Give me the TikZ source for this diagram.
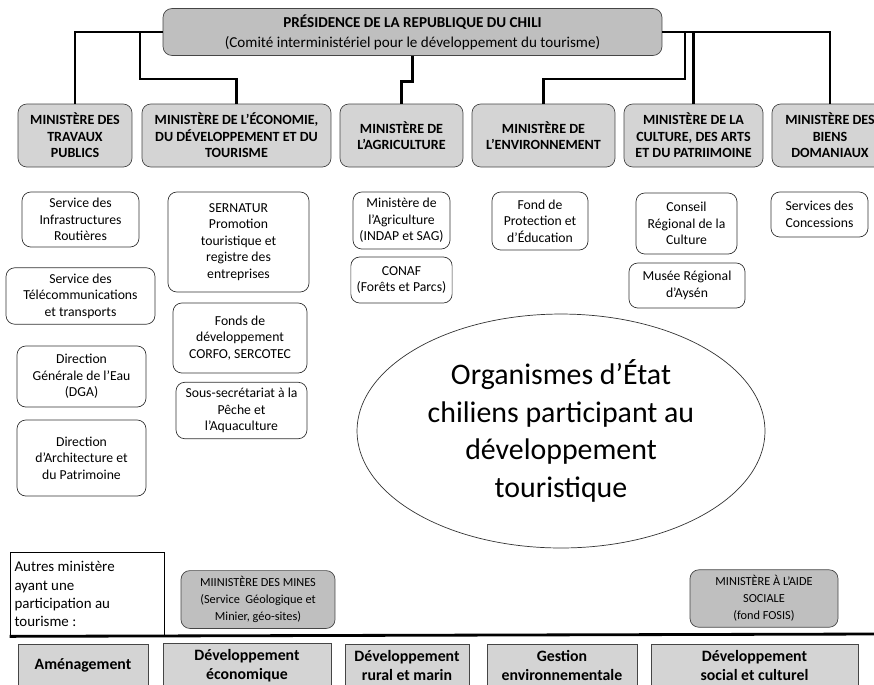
\documentclass[tikz,border=0pt]{standalone}
\usepackage{fontspec}
\setmainfont{Carlito}
\usepackage{tikz}
\usetikzlibrary{positioning,shapes.geometric}
\definecolor{boxgray}{HTML}{D4D4D4}
\definecolor{headgray}{HTML}{BFBFBF}
\definecolor{edgegray}{HTML}{454545}
\tikzset{%
	head/.style     = {draw=edgegray, fill=headgray, rounded corners=5pt, align=center, font=\fontsize{8.6}{11.4}\selectfont}, % Presidence
	ministry/.style = {draw=edgegray, fill=boxgray, rounded corners=5pt, align=center, minimum height=1.26cm, font=\bfseries\fontsize{8}{9.4}\selectfont},
	service/.style  = {draw=black!80, fill=white, rounded corners=5pt, align=center, font=\fontsize{7.8}{9.4}\selectfont},
	other/.style    = {draw=edgegray, fill=headgray, rounded corners=5pt, align=center, font=\fontsize{7}{9.6}\selectfont},
	field/.style    = {draw=edgegray, fill=boxgray, align=center, minimum height=0.86cm, font=\bfseries\fontsize{9}{10.8}\selectfont},
	link/.style     = {line width=1.6pt},
	waypoint/.style = {coordinate},
}
\begin{document}
\begin{tikzpicture}[x=0.02cm, y=-0.02cm]
		\useasboundingbox (0,0) rectangle (874,684);
		\clip (0,0) rectangle (874,684);
		% presidence
		\node[head, minimum width=9.98cm, minimum height=0.88cm] (pres) at (412.5,32) {{\bfseries PRÉSIDENCE DE LA REPUBLIQUE DU CHILI}\\(Comité interministériel pour le développement du tourisme)};
		% ministeres
		\node[ministry, minimum width=2.28cm] (trav) at (75,135.5) {MINISTÈRE DES\\TRAVAUX\\PUBLICS};
		\node[ministry, minimum width=3.78cm] (eco) at (236.5,135.5) {MINISTÈRE DE L’ÉCONOMIE,\\DU DÉVELOPPEMENT ET DU\\TOURISME};
		\node[ministry, minimum width=2.46cm] (agri) at (401.5,135.5) {MINISTÈRE DE\\L’AGRICULTURE};
		\node[ministry, minimum width=2.86cm] (env) at (543.5,135.5) {MINISTÈRE DE\\L’ENVIRONNEMENT};
		\node[ministry, minimum width=2.78cm] (cult) at (693.5,135.5) {MINISTÈRE DE LA\\CULTURE, DES ARTS\\ET DU PATRIIMOINE};
		\node[ministry, minimum width=2.32cm] (biens) at (830,135.5) {MINISTÈRE DES\\BIENS\\DOMANIAUX};
		% liaisons
		\node[waypoint] (jl) at (140,32) {};
		\node[waypoint] (jr) at (685,32) {};
		\draw[link] (pres.west) -| (trav.north);
		\draw[link] (jl) -- ++(0,47) -| (eco.north);
		\draw[link] (pres.south) -- ++(0,26) -| (agri.north);
		\draw[link] (jr) -- ++(0,47) -| (env.north);
		\draw[link] (pres.east -| cult.north) -- (cult.north);
		\draw[link] (pres.east) -| (biens.north);
		% services
		\node[service, minimum width=2.34cm, minimum height=1.10cm] (infra) at (80.5,219.5) {Service des\\Infrastructures\\Routières};
		\node[service, minimum width=2.98cm, minimum height=1.12cm] (telecom) at (80.5,296) {Service des\\Télécommunications\\et transports};
		\node[service, minimum width=2.58cm, minimum height=1.22cm] (dga) at (81.5,376.5) {Direction\\Générale de l’Eau\\(DGA)};
		\node[service, minimum width=2.58cm, minimum height=1.52cm] (archi) at (81.5,458) {Direction\\d’Architecture et\\du Patrimoine};
		\node[service, minimum width=2.82cm, minimum height=2.00cm] (sernatur) at (238.5,242) {SERNATUR\\Promotion\\touristique et\\registre des\\entreprises};
		\node[service, minimum width=2.68cm, minimum height=1.40cm] (fonds) at (240,338) {Fonds de\\développement\\CORFO, SERCOTEC};
		\node[service, minimum width=2.62cm, minimum height=1.10cm] (peche) at (241.5,410.5) {Sous-secrétariat à la\\Pêche et\\l’Aquaculture};
		\node[service, minimum width=1.94cm, minimum height=1.14cm] (minagri) at (401.5,220.5) {Ministère de\\l’Agriculture\\(INDAP et SAG)};
		\node[service, minimum width=1.94cm, minimum height=0.92cm] (conaf) at (401.5,280) {CONAF\\(Forêts et Parcs)};
		\node[service, minimum width=1.92cm, minimum height=1.16cm] (fpe) at (540,221) {Fond de\\Protection et\\d’Éducation};
		\node[service, minimum width=2.02cm, minimum height=1.22cm] (conseil) at (686.5,223.5) {Conseil\\Régional de la\\Culture};
		\node[service, minimum width=2.32cm, minimum height=0.90cm] (musee) at (687,285.5) {Musée Régional\\d’Aysén};
		\node[service, minimum width=1.94cm, minimum height=0.90cm] (conc) at (819.5,214.5) {Services des\\Concessions};
		% ellipse
		\node[draw=black!80, ellipse, minimum width=8.16cm, minimum height=4.68cm, align=center, font=\fontsize{17}{21.5}\selectfont] (org) at (561,431) {Organismes d’État\\chiliens participant au\\développement\\touristique};
		% autres ministeres
		\node[draw=black, align=flush left, text width=2.9cm, minimum width=3.08cm, minimum height=1.68cm, inner xsep=0.09cm, font=\fontsize{8.5}{10.3}\selectfont] (autres) at (87,594) {Autres ministère\\ayant une\\participation au\\tourisme :};
		\node[other, minimum width=3.08cm, minimum height=1.10cm] (mines) at (258,599.5) {MIINISTÈRE DES MINES\\(Service\ \ Géologique et\\Minier, géo-sites)};
		\node[other, minimum width=2.96cm, minimum height=1.14cm] (aide) at (764,598.5) {MINISTÈRE À L’AIDE\\SOCIALE\\(fond FOSIS)};
		\node[waypoint] (sep) at (874,634) {};
		\draw[link] (autres.south west) -- (sep);
		% domaines
		\node[field, minimum width=2.60cm] (amen) at (83,665.5) {Aménagement};
		\node[field, minimum width=3.36cm] (deveco) at (247,665.5) {Développement\\économique};
		\node[field, minimum width=2.48cm] (rural) at (407,665.5) {Développement\\rural et marin};
		\node[field, minimum width=3.00cm] (gestion) at (562,665.5) {Gestion\\environnementale};
		\node[field, minimum width=4.14cm] (social) at (754.5,665.5) {Développement\\social et culturel};
\end{tikzpicture}
\end{document}
